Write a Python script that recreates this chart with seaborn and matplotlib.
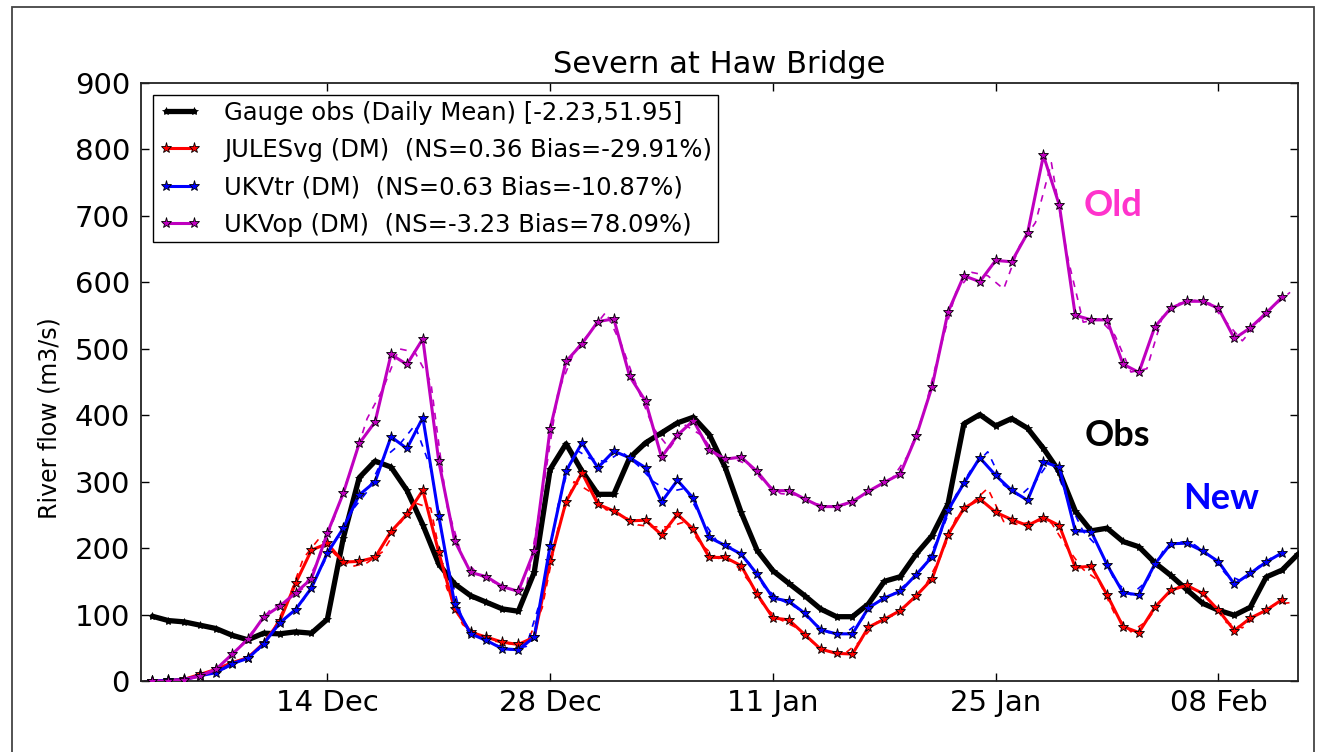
import numpy as np
import pandas as pd
import matplotlib
matplotlib.use("Agg")
import matplotlib.pyplot as plt
import matplotlib.dates as mdates
from matplotlib.patches import Rectangle
import seaborn as sns

# ---------------- data ----------------
obs_start = "2015-12-03"          # first daily-mean point
sub_start = "2015-12-02 12:00"    # first sub-daily (dashed) point

gauge_obs = [97.5, 91, 89, 84, 79, 69, 62, 72, 71, 74, 72, 93, 215, 306, 331, 322, 287, 235,
             176, 146, 128.5, 118.5, 108.5, 105, 163.5, 318.5, 357, 316, 281, 281, 336, 358.5, 373.5, 388.5, 397, 371,
             321.6, 254, 197, 166, 147, 128.4, 108.4, 96.8, 96.8, 116, 150, 157, 191, 218.8, 266, 387, 401, 384,
             395, 380.5, 350, 315, 256, 226, 230, 210, 202, 178, 159, 137.6, 117, 106.5, 99, 111, 156.5, 167, 191]

julesvg_dm = [0, 1, 2.5, 10, 17.5, 27.5, 35, 57, 90, 147, 197, 207, 179, 180, 186, 225, 251, 287,
              193.5, 108.5, 73.5, 66, 58.5, 55, 66, 180, 270, 313.5, 266, 256, 241, 242, 220, 251, 228.5, 186,
              186, 173.6, 131, 95, 92, 70, 48, 41.6, 40.6, 81, 93, 106, 128, 153.5, 220, 260, 274, 254,
              243, 234, 246, 234, 171, 172.6, 129.6, 82, 73, 111, 136.6, 144, 132, 106.5, 76, 94.6, 106.5, 122.6]

ukvtr_dm = [0, 1, 2, 8, 12.5, 26, 34, 56, 87.5, 107.5, 140, 192.5, 230, 280, 300, 367.5, 350, 396.5,
            248.5, 116, 71, 61, 48.5, 47, 66, 203.5, 316, 358.5, 321, 346, 336, 321, 269.5, 302, 275, 216,
            204, 191, 161, 125, 120, 102, 77, 71, 71, 110, 125, 135, 160, 187, 257, 297.5, 336, 309.5,
            287, 272, 330, 321.5, 226, 225, 175, 133, 129.6, 176, 206.5, 207.5, 195.7, 179.6, 145.7, 162, 179, 193]

ukvop_dm = [0, 0, 2, 7.5, 17.5, 40, 62.5, 96.5, 112.5, 132.5, 154, 222.5, 282.5, 357.5, 390, 491.5, 476.5, 515,
            331, 211, 163.5, 157, 142, 135, 196, 379.5, 481, 507.5, 541, 545, 458.5, 421, 337, 370, 392, 348,
            334, 337, 315.5, 286.5, 286.5, 274, 262.5, 262.5, 270, 285.5, 299, 311.5, 368, 443, 555, 610, 601, 633,
            631, 674, 791, 716, 550.5, 543.5, 543.5, 477, 464.5, 533, 561, 571.5, 571.5, 561, 515.5, 531.5, 554, 577.5]

# sub-daily model output (dashed lines), sampled at midday
julesvg_sub = [0, 0, 2, 6, 14, 22, 30, 45, 72, 120, 185, 215, 190, 172, 178, 195, 235, 268, 260,
               140, 85, 68, 60, 56, 55, 110, 230, 300, 285, 258, 250, 235, 232, 232, 240, 205, 185,
               180, 150, 110, 92, 80, 58, 44, 41, 60, 88, 98, 118, 140, 185, 245, 268, 290, 240,
               235, 242, 238, 200, 168, 150, 100, 74, 90, 125, 142, 140, 120, 88, 80, 100, 115, 118]

ukvtr_sub = [0, 0, 1, 4, 10, 18, 30, 42, 72, 97, 122, 165, 212, 255, 285, 335, 355, 385, 320,
             180, 90, 65, 55, 47, 52, 130, 265, 350, 335, 330, 345, 325, 300, 285, 290, 245, 210,
             200, 178, 140, 122, 110, 88, 73, 71, 90, 118, 130, 148, 172, 220, 280, 320, 345, 295,
             278, 300, 335, 275, 225, 200, 150, 130, 150, 195, 210, 205, 188, 160, 150, 172, 188, 190]

ukvop_sub = [0, 0, 1, 4, 12, 28, 52, 80, 110, 122, 140, 185, 250, 320, 395, 440, 500, 495, 450,
             265, 185, 160, 148, 138, 140, 280, 435, 495, 525, 555, 505, 440, 380, 350, 385, 370, 338,
             335, 325, 298, 282, 280, 268, 262, 265, 278, 292, 305, 340, 405, 500, 585, 615, 610, 590,
             655, 690, 780, 640, 540, 545, 520, 465, 470, 550, 568, 573, 568, 540, 512, 540, 565, 585]

legend_labels = ["Gauge obs (Daily Mean) [-2.23,51.95]",
                 "JULESvg (DM)  (NS=0.36 Bias=-29.91%)",
                 "UKVtr (DM)  (NS=0.63 Bias=-10.87%)",
                 "UKVop (DM)  (NS=-3.23 Bias=78.09%)"]
tick_dates = ["2015-12-14", "2015-12-28", "2016-01-11", "2016-01-25", "2016-02-08"]
x_limits = ["2015-12-02 07:00", "2016-02-13 00:00"]
y_ticks = [0, 100, 200, 300, 400, 500, 600, 700, 800, 900]

# ---------------- figure ----------------
sns.set_style("ticks")
plt.rcParams["font.family"] = ["DejaVu Sans"]
plt.rcParams.update({"text.color": "k", "axes.labelcolor": "k",
                     "xtick.color": "k", "ytick.color": "k"})

fig = plt.figure(figsize=(13.17, 7.52), dpi=100)
ax = fig.add_axes([0.1071, 0.0944, 0.8785, 0.7952])

d_obs = pd.date_range(obs_start, periods=len(gauge_obs), freq="D")
d_mod = pd.date_range(obs_start, periods=len(julesvg_dm), freq="D")
d_sub = pd.date_range(sub_start, periods=len(julesvg_sub), freq="D")

# dashed sub-daily lines
for vals, col in [(julesvg_sub, "#FF0000"), (ukvtr_sub, "#0000FF"), (ukvop_sub, "#BF00BF")]:
    sns.lineplot(x=d_sub, y=vals, ax=ax, color=col, linewidth=1.2, linestyle=(0, (4, 4)),
                 estimator=None, sort=False, zorder=1)

handles = []
sns.lineplot(x=d_obs, y=gauge_obs, ax=ax, color="k", linewidth=3.8, marker="*",
             markersize=6, markerfacecolor="k", markeredgecolor="k", markeredgewidth=0.5,
             estimator=None, sort=False, zorder=3)
handles.append(ax.lines[-1])
for vals, col in [(julesvg_dm, "#FF0000"), (ukvtr_dm, "#0000FF"), (ukvop_dm, "#BF00BF")]:
    sns.lineplot(x=d_mod, y=vals, ax=ax, color=col, linewidth=2.2, marker="*",
                 markersize=8, markerfacecolor=col, markeredgecolor="k", markeredgewidth=0.6,
                 estimator=None, sort=False, zorder=4)
    handles.append(ax.lines[-1])

ax.set_xlim(pd.Timestamp(x_limits[0]), pd.Timestamp(x_limits[1]))
ax.set_ylim(0, 900)
ax.set_yticks(y_ticks)
ax.set_xticks(pd.to_datetime(tick_dates))
ax.xaxis.set_major_formatter(mdates.DateFormatter("%d %b"))
ax.tick_params(direction="in", top=True, right=True, length=6, width=1, labelsize=21, colors="k")
ax.tick_params(axis="x", pad=6)
ax.tick_params(axis="y", pad=8)
for s in ax.spines.values():
    s.set_color("#222222")
    s.set_linewidth(1.3)

ax.set_xlabel("")
ax.set_ylabel("River flow (m3/s)", fontsize=17, color="k")
ax.yaxis.set_label_coords(-0.069, 0.44)
ax.set_title("Severn at Haw Bridge", fontsize=22, pad=7, color="k")

leg = ax.legend(handles=handles, labels=legend_labels, loc="upper left", fontsize=17.5,
                numpoints=2, frameon=True, fancybox=False, shadow=False, framealpha=1,
                edgecolor="k", borderaxespad=0.5, borderpad=0.22, labelspacing=0.55,
                handlelength=1.75, handletextpad=0.95)
leg.get_frame().set_linewidth(1.0)

ann_font = ["Lato", "DejaVu Sans"]
ax.text(0.840, 0.796, "Old", transform=ax.transAxes, ha="center", va="center",
        fontsize=26, fontweight="bold", color="#FF33CC", family=ann_font)
ax.text(0.8436, 0.410, "Obs", transform=ax.transAxes, ha="center", va="center",
        fontsize=26, fontweight="bold", color="black", family=ann_font)
ax.text(0.9334, 0.306, "New", transform=ax.transAxes, ha="center", va="center",
        fontsize=26, fontweight="bold", color="#0000FF", family=ann_font)

# outer frame around the slide
fig.add_artist(Rectangle((12 / 1317, -0.02), (1314 - 12) / 1317, 1 - 7 / 752 + 0.02,
                         transform=fig.transFigure, fill=False, edgecolor="#444444", linewidth=1.3))

fig.savefig("out.png", dpi=100)
